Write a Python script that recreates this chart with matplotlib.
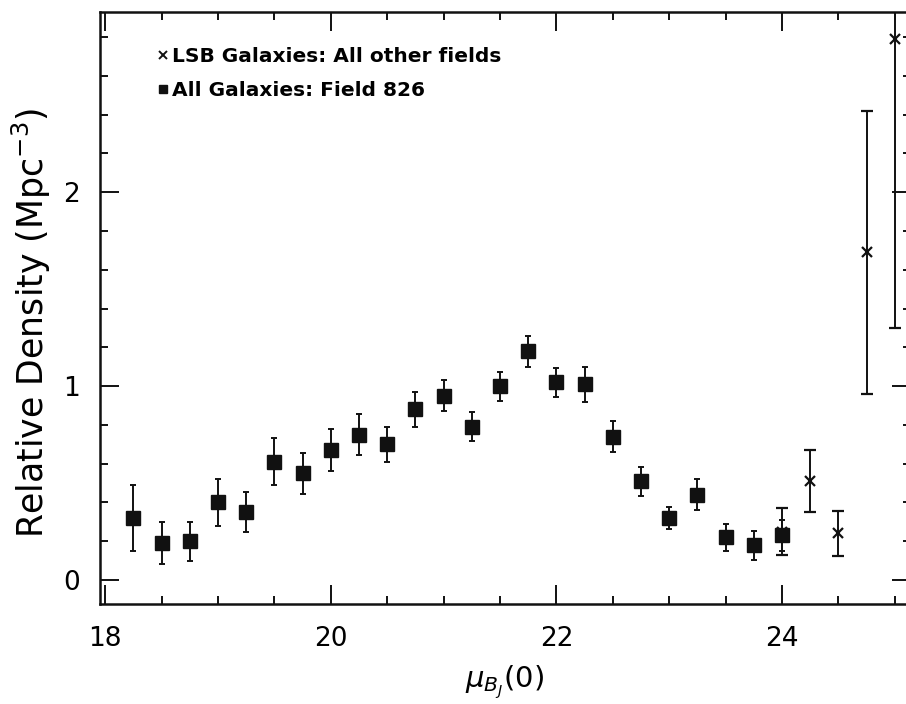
import matplotlib
matplotlib.use("Agg")
import matplotlib.pyplot as plt
from matplotlib.lines import Line2D
from matplotlib.ticker import MultipleLocator

plt.rcParams['font.family'] = ['DejaVu Sans']

# Field 826: all galaxies
field_mu = [18.25, 18.5, 18.75, 19.0, 19.25, 19.5, 19.75, 20.0, 20.25, 20.5,
            20.75, 21.0, 21.25, 21.5, 21.75, 22.0, 22.25, 22.5, 22.75, 23.0,
            23.25, 23.5, 23.75, 24.0]
field_density = [0.32, 0.19, 0.20, 0.40, 0.35, 0.61, 0.55, 0.67, 0.75, 0.70,
                 0.88, 0.95, 0.79, 1.00, 1.18, 1.02, 1.01, 0.74, 0.51, 0.32,
                 0.44, 0.22, 0.18, 0.23]
field_err = [0.17, 0.11, 0.10, 0.12, 0.105, 0.12, 0.105, 0.11, 0.105, 0.09,
             0.09, 0.08, 0.075, 0.075, 0.08, 0.075, 0.09, 0.08, 0.075, 0.055,
             0.08, 0.07, 0.075, 0.08]

# LSB galaxies from all other fields
lsb_mu = [24.0, 24.25, 24.5, 24.75, 25.0]
lsb_density = [0.25, 0.51, 0.24, 1.69, 2.79]
lsb_err = [0.12, 0.16, 0.115, 0.73, 1.49]

legend_labels = ["LSB Galaxies: All other fields", "All Galaxies: Field 826"]

fig = plt.figure(figsize=(9.06, 7.04), dpi=100)
ax = fig.add_axes([0.110, 0.142, 0.895, 0.841])

ink = '#111111'
ax.errorbar(field_mu, field_density, yerr=field_err, fmt='s', color=ink,
            markersize=10, elinewidth=1.4, capsize=2.5, capthick=1.4)
ax.errorbar(lsb_mu, lsb_density, yerr=lsb_err, fmt='x', color=ink,
            markersize=7, markeredgewidth=1.6, elinewidth=1.4,
            capsize=4, capthick=1.4)

ax.set_xlim(17.95, 25.14)
ax.set_ylim(-0.124, 2.93)

ax.xaxis.set_major_locator(MultipleLocator(2))
ax.xaxis.set_minor_locator(MultipleLocator(0.5))
ax.yaxis.set_major_locator(MultipleLocator(1))
ax.yaxis.set_minor_locator(MultipleLocator(0.2))

ax.tick_params(which='both', direction='in', top=True, right=True,
               color=ink, width=1.4)
ax.tick_params(which='major', length=14)
ax.tick_params(which='minor', length=6)
ax.tick_params(axis='x', which='major', labelsize=19, pad=16)
ax.tick_params(axis='y', which='major', labelsize=19, pad=14)
for sp in ax.spines.values():
    sp.set_linewidth(1.8)
    sp.set_color(ink)

ax.set_xlabel(r'$\mu_{B_J}(0)$', fontsize=21, labelpad=8)
ax.set_ylabel(r'Relative Density (Mpc$^{-3}$)', fontsize=25)
ax.yaxis.set_label_coords(-0.058, 0.475)

handles = [Line2D([], [], marker='x', linestyle='none', color=ink,
                  markersize=6, markeredgewidth=1.4),
           Line2D([], [], marker='s', linestyle='none', color=ink,
                  markersize=6)]
ax.legend(handles, legend_labels, loc='upper left', frameon=False,
          handlelength=0.4, handletextpad=0.25, labelspacing=0.75,
          borderaxespad=0.0, bbox_to_anchor=(0.063, 0.954),
          prop={'size': 14.5, 'weight': 'bold'})

fig.savefig('out.png', dpi=100)
